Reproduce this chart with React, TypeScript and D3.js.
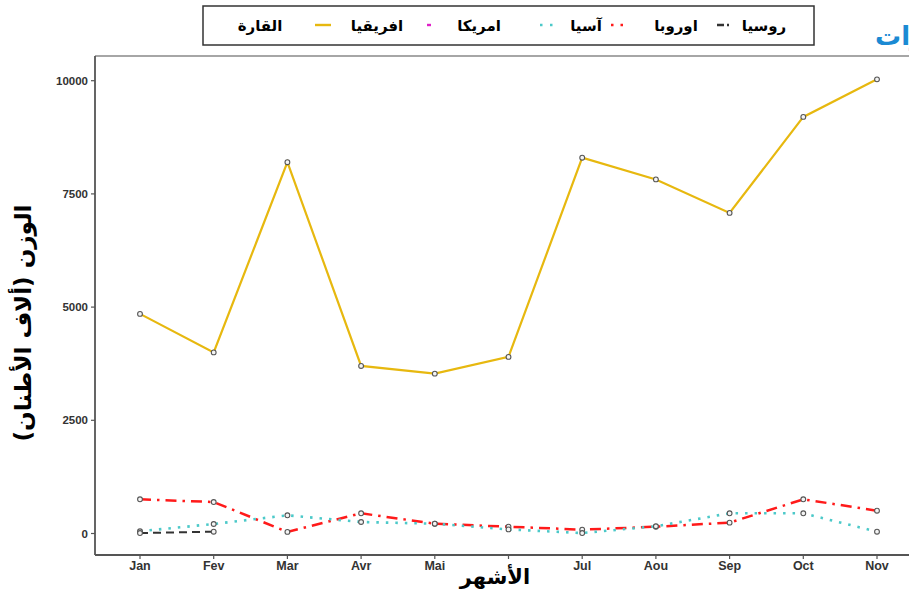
import React from "react";
import * as d3 from "d3";

const months = ["Jan", "Fev", "Mar", "Avr", "Mai", "Juin", "Jul", "Aou", "Sep", "Oct", "Nov"];
const hiddenLabels = ["Juin"];
const africa = [4850, 4000, 8200, 3700, 3530, 3900, 8300, 7820, 7080, 9200, 10030];
const europe = [755, 695, 35, 446, 216, 150, 85, 150, 240, 755, 504];
const asia = [50, 210, 402, 254, 216, 90, 10, 160, 446, 446, 40];
const russia: (number | null)[] = [10, 40, null, null, null, null, null, null, null, null, null];
const yTicks = [0, 2500, 5000, 7500, 10000];
const legendTitle = "القارة";
const legendNames = ["افريقيا", "امريكا", "آسيا", "اوروبا", "روسيا"];
const yTitle = "الوزن (ألاف الأطنان)";
const xTitle = "الأشهر";
const mainTitle = "الصادرات";

const W = 909, H = 590;
const left = 95, top = 56, bottom = 555;

const FONT = "'Liberation Sans', 'DejaVu Sans', Arial, sans-serif";
const AFONT = "'DejaVu Sans', 'Liberation Sans', sans-serif";

const COLORS = {
  africa: "#E7B80F",
  america: "#E020C8",
  asia: "#4CC9C9",
  europe: "#FF1A1A",
  russia: "#333333",
};

export default function App() {
  const x = d3.scalePoint<string>().domain(months).range([140, 877]);
  const y = d3.scaleLinear().domain([0, 10000]).range([533.5, 80.7]);

  const line = d3
    .line<number | null>()
    .defined((d) => d !== null)
    .x((_, i) => x(months[i]) as number)
    .y((d) => y(d as number));

  const series = [
    { key: "europe", data: europe as (number | null)[], color: COLORS.europe, dash: "11,6,2.5,6", w: 2.5 },
    { key: "asia", data: asia as (number | null)[], color: COLORS.asia, dash: "2.5,7", w: 2.6 },
    { key: "russia", data: russia, color: COLORS.russia, dash: "8,5", w: 2 },
    { key: "africa", data: africa as (number | null)[], color: COLORS.africa, dash: undefined, w: 2.2 },
  ];

  const legendItems = [
    { x0: 315, x1: 331, color: COLORS.africa, dash: undefined, tx: 377 },
    { x0: 427, x1: 431, color: COLORS.america, dash: undefined, tx: 479 },
    { x0: 540, x1: 556, color: COLORS.asia, dash: "2.5,7.5", tx: 586 },
    { x0: 611, x1: 627, color: COLORS.europe, dash: "2.5,7", tx: 676 },
    { x0: 717, x1: 731, color: COLORS.russia, dash: "7,3,2,10", tx: 764 },
  ];

  return (
    <svg
      width={W}
      height={H}
      style={{ position: "absolute", left: 0, top: 0, background: "#fff" }}
      fontFamily={FONT}
    >
      <rect x={0} y={0} width={W} height={H} fill="#fff" />
      {/* main title, partially clipped */}
      <text x={875} y={45} fontSize={26} fontWeight="bold" fill="#1B8AD3" fontFamily={AFONT}>
        {mainTitle}
      </text>

      {/* panel lines */}
      <line x1={left} x2={W} y1={top} y2={top} stroke="#888" strokeWidth={1.5} />
      <line x1={left} x2={left} y1={top} y2={bottom} stroke="#555" strokeWidth={1.8} />
      <line x1={left} x2={W} y1={bottom} y2={bottom} stroke="#555" strokeWidth={1.8} />

      {/* y axis */}
      {yTicks.map((t) => (
        <g key={t}>
          <line x1={left - 4} x2={left} y1={y(t)} y2={y(t)} stroke="#555" strokeWidth={1.2} />
          <text x={left - 7} y={y(t) + 4} fontSize={11.5} fontWeight="bold" textAnchor="end" fill="#333">
            {t}
          </text>
        </g>
      ))}

      {/* x axis */}
      {months.map((m) => (
        <g key={m}>
          <line x1={x(m)} x2={x(m)} y1={bottom} y2={bottom + 4} stroke="#555" strokeWidth={1.2} />
          {hiddenLabels.includes(m) ? null : (
            <text x={x(m)} y={bottom + 15} fontSize={12.5} fontWeight="bold" textAnchor="middle" fill="#333">
              {m}
            </text>
          )}
        </g>
      ))}

      {/* lines */}
      {series.map((s) => (
        <path
          key={s.key}
          d={line(s.data) || ""}
          fill="none"
          stroke={s.color}
          strokeWidth={s.w}
          strokeDasharray={s.dash}
        />
      ))}
      {/* points */}
      {series.map((s) =>
        s.data.map((v, i) =>
          v === null ? null : (
            <circle
              key={s.key + i}
              cx={x(months[i])}
              cy={y(v)}
              r={2.4}
              fill="#f4f4f4"
              stroke="#555"
              strokeWidth={1.1}
            />
          )
        )
      )}

      {/* axis titles */}
      <text x={495} y={584} fontSize={21} fontWeight="bold" textAnchor="middle" fill="#000" fontFamily={AFONT}>
        {xTitle}
      </text>
      <text
        transform={`translate(31,323) rotate(-90)`}
        fontSize={23}
        fontWeight="bold"
        textAnchor="middle"
        fill="#000"
        fontFamily={AFONT}
      >
        {yTitle}
      </text>

      {/* legend */}
      <rect x={203} y={6} width={611} height={39} fill="#fff" stroke="#333" strokeWidth={1.5} />
      <text x={260} y={31} fontSize={15} fontWeight="bold" textAnchor="middle" fill="#000" fontFamily={AFONT}>
        {legendTitle}
      </text>
      {legendItems.map((it, i) => (
        <g key={i}>
          <line
            x1={it.x0}
            x2={it.x1}
            y1={25}
            y2={25}
            stroke={it.color}
            strokeWidth={2.4}
            strokeDasharray={it.dash}
          />
          <text x={it.tx} y={31} fontSize={15} fontWeight="bold" textAnchor="middle" fill="#000" fontFamily={AFONT}>
            {legendNames[i]}
          </text>
        </g>
      ))}
    </svg>
  );
}
